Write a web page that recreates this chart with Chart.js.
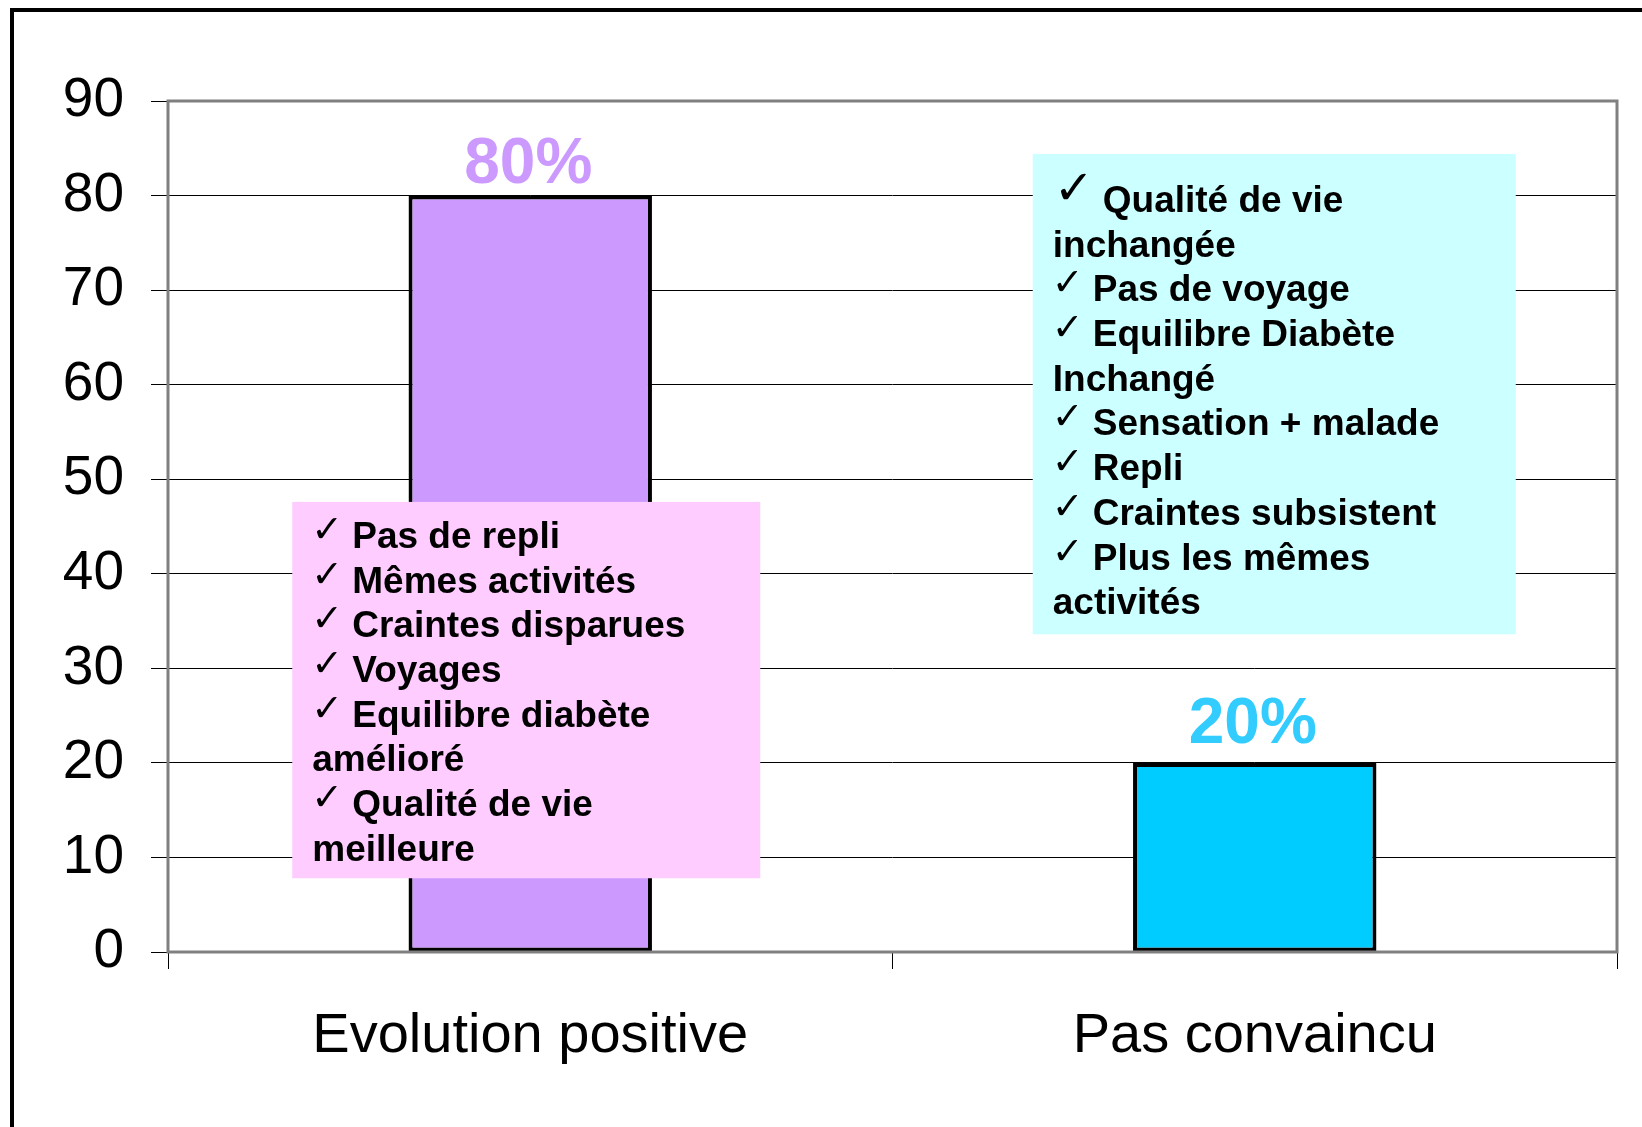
<!DOCTYPE html>
<html>
<head>
<meta charset="utf-8">
<script src="https://cdn.jsdelivr.net/npm/chart.js@4.4.1/dist/chart.umd.min.js"></script>
<style>
  html, body { margin: 0; padding: 0; background: #fff; overflow: hidden; }
  #frame { position: absolute; left: 10px; top: 8px; width: 1700px; height: 1200px; border: 4px solid #000; }
  #myChart { position: absolute; left: 0; top: 0; }
</style>
</head>
<body>
<div id="frame"></div>
<canvas id="myChart" width="1642" height="1127"></canvas>
<script>
// Chart data
const categories = ['Evolution positive', 'Pas convaincu'];
const values = [80, 20];
const barColors = ['#CC99FF', '#00CCFF'];
const labelColors = ['#CC99FF', '#33CCFF'];
const labelGaps = [13, 20]; // space between percent label and bar top

// Text of the two note boxes ('✓' marks a bullet line)
const positiveNotes = [
  '✓Pas de repli',
  '✓Mêmes activités',
  '✓Craintes disparues',
  '✓Voyages',
  '✓Equilibre diabète',
  'amélioré',
  '✓Qualité de vie',
  'meilleure'
];
const negativeNotes = [
  '✓Qualité de vie',
  'inchangée',
  '✓Pas de voyage',
  '✓Equilibre Diabète',
  'Inchangé',
  '✓Sensation + malade',
  '✓Repli',
  '✓Craintes subsistent',
  '✓Plus les mêmes',
  'activités'
];

// Where the boxes sit: category index, value range, offsets from the category centre
const notesBoxes = [
  { lines: positiveNotes, category: 0, from: 7.8, to: 47.6, left: -238, right: 230, fill: '#FFCCFF', first: 46, bigFirst: false },
  { lines: negativeNotes, category: 1, from: 33.6, to: 84.4, left: -222, right: 261, fill: '#CCFFFF', first: 58, bigFirst: true }
];

const textFont = 'bold 37px "Liberation Sans", Arial, sans-serif';
const checkFont = '38px "DejaVu Sans", sans-serif';
const bigCheckFont = '48px "DejaVu Sans", sans-serif';

// Draws plot frame, percent labels and the note boxes
const frameAndNotes = {
  id: 'frameAndNotes',
  afterDatasetsDraw(chart) {
    const { ctx, chartArea: a, scales: { x, y } } = chart;
    ctx.save();

    ctx.strokeStyle = '#808080';
    ctx.lineWidth = 3;
    ctx.strokeRect(a.left, a.top, a.right - a.left, a.bottom - a.top);

    const meta = chart.getDatasetMeta(0);
    ctx.font = 'bold 64px "Liberation Sans", Arial, sans-serif';
    ctx.textAlign = 'center';
    ctx.textBaseline = 'alphabetic';
    meta.data.forEach((bar, i) => {
      ctx.fillStyle = labelColors[i];
      ctx.fillText(values[i] + '%', bar.x - 2, bar.y - labelGaps[i]);
    });

    notesBoxes.forEach(box => {
      const cx = x.getPixelForValue(box.category);
      const left = cx + box.left;
      const right = cx + box.right;
      const top = y.getPixelForValue(box.to);
      const bottom = y.getPixelForValue(box.from);
      ctx.fillStyle = box.fill;
      ctx.fillRect(left, top, right - left, bottom - top);

      ctx.fillStyle = '#000';
      ctx.textAlign = 'left';
      box.lines.forEach((line, i) => {
        const base = top + box.first + i * 44.7;
        if (line.startsWith('✓')) {
          const big = box.bigFirst && i === 0;
          ctx.font = big ? bigCheckFont : checkFont;
          ctx.fillText('✓', left + (big ? 21 : 19), base - (big ? 8 : 6));
          ctx.font = textFont;
          ctx.fillText(line.slice(1), left + (big ? 70 : 60), base);
        } else {
          ctx.font = textFont;
          ctx.fillText(line, left + 20, base);
        }
      });
    });

    ctx.restore();
  }
};

const ctx = document.getElementById('myChart').getContext('2d');
const chart = new Chart(ctx, {
  type: 'bar',
  data: {
    labels: categories,
    datasets: [{
      data: values,
      backgroundColor: barColors,
      borderColor: '#000',
      borderWidth: 4,
      borderSkipped: false,
      categoryPercentage: 1,
      barPercentage: 0.336
    }]
  },
  options: {
    responsive: false,
    animation: false,
    layout: { padding: { top: 101, left: 0, right: 25, bottom: 0 } },
    plugins: {
      legend: { display: false },
      tooltip: { enabled: false }
    },
    scales: {
      x: {
        offset: true,
        afterFit: (scale) => { scale.height = 175; },
        grid: { display: true, drawOnChartArea: false, offset: true, tickLength: 17, color: '#000', lineWidth: 1 },
        border: { display: false },
        ticks: {
          color: '#000',
          padding: 34,
          font: { family: '"Liberation Sans", Arial, sans-serif', size: 56 }
        }
      },
      y: {
        min: 0,
        max: 90,
        afterFit: (scale) => { scale.width = 168; },
        grid: { color: '#000', lineWidth: 1, tickLength: 17 },
        border: { display: false },
        ticks: {
          stepSize: 10,
          color: '#000',
          padding: 27,
          font: { family: '"Liberation Sans", Arial, sans-serif', size: 55 }
        }
      }
    }
  },
  plugins: [frameAndNotes]
});
</script>
</body>
</html>
